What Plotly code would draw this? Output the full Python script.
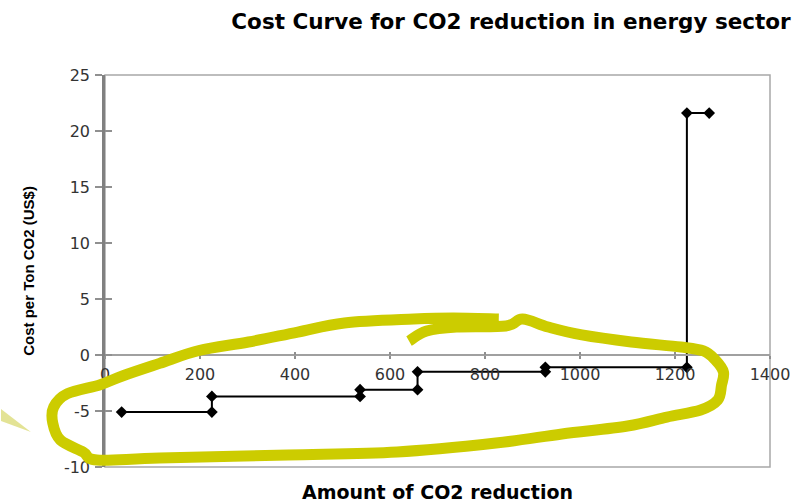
import plotly.graph_objects as go

# Abatement cost curve: cumulative CO2 reduction vs. cost per ton (step curve)
reduction = [35, 225, 225, 537, 537, 658, 658, 927, 927, 1225, 1225, 1272]
cost = [-5.1, -5.1, -3.7, -3.7, -3.1, -3.1, -1.5, -1.5, -1.1, -1.1, 21.6, 21.6]

x_ticks = [0, 200, 400, 600, 800, 1000, 1200, 1400]
y_ticks = [-10, -5, 0, 5, 10, 15, 20, 25]

X_RANGE = [0, 1400]
Y_RANGE = [-10, 25]

# Freehand highlight loop drawn around the negative-cost options (axis units)
loop_x = [640, 677, 740, 844, 879, 933, 1004, 1108, 1212, 1260, 1285, 1302,
          1298, 1290, 1254, 1183, 1100, 962, 823, 615, 385, 115, -17, -46,
          -94, -110, -108, -79, -10, 38, 115, 198, 302, 406, 504, 650, 733, 829]
loop_y = [1.25, 2.14, 2.5, 2.59, 3.21, 2.5, 1.79, 1.16, 0.71, 0.36, -0.45, -1.52,
          -2.68, -4.02, -4.91, -5.54, -6.34, -7.05, -7.86, -8.66, -8.93, -9.2, -9.38, -8.66,
          -7.59, -6.07, -4.64, -3.45, -2.65, -1.85, -0.75, 0.4, 1.16, 2.05, 2.86, 3.21, 3.3, 3.21]

# Small callout wedge at the left edge (axis units)
pointer_x = [-219, -156, -219]
pointer_y = [-4.82, -6.875, -5.89]


def to_paper(x, y):
    px = (x - X_RANGE[0]) / (X_RANGE[1] - X_RANGE[0])
    py = (y - Y_RANGE[0]) / (Y_RANGE[1] - Y_RANGE[0])
    return px, py


def smooth_path(xs, ys):
    pts = [to_paper(a, b) for a, b in zip(xs, ys)]
    d = "M %.5f,%.5f" % pts[0]
    n = len(pts)
    for i in range(n - 1):
        p0 = pts[i - 1] if i > 0 else pts[i]
        p1 = pts[i]
        p2 = pts[i + 1]
        p3 = pts[i + 2] if i + 2 < n else pts[i + 1]
        c1 = (p1[0] + (p2[0] - p0[0]) / 6, p1[1] + (p2[1] - p0[1]) / 6)
        c2 = (p2[0] - (p3[0] - p1[0]) / 6, p2[1] - (p3[1] - p1[1]) / 6)
        d += " C %.5f,%.5f %.5f,%.5f %.5f,%.5f" % (c1 + c2 + p2)
    return d


def poly_path(xs, ys):
    pts = [to_paper(a, b) for a, b in zip(xs, ys)]
    return "M " + " L ".join("%.5f,%.5f" % p for p in pts) + " Z"


fig = go.Figure()

fig.add_trace(go.Scatter(
    x=reduction, y=cost, mode="lines+markers",
    line=dict(color="black", width=2),
    marker=dict(symbol="diamond", size=9, color="black"),
    showlegend=False, hoverinfo="x+y",
))
# empty trace so the overlay axes (cross tick marks) get drawn
fig.add_trace(go.Scatter(x=[], y=[], xaxis="x2", yaxis="y2", showlegend=False))

tick_font = dict(family="DejaVu Sans", size=16, color="#333333")
zero_pos = (0 - Y_RANGE[0]) / (Y_RANGE[1] - Y_RANGE[0])

fig.update_layout(
    width=802, height=500,
    margin=dict(l=105, r=25, t=75, b=33),
    paper_bgcolor="white", plot_bgcolor="white",
    title=dict(
        text="<b>Cost Curve for CO2 reduction in energy sector</b>",
        font=dict(family="DejaVu Sans", size=21.5, color="black"),
        x=511 / 802, xref="container", xanchor="center",
        y=1 - 21 / 500, yref="container", yanchor="middle",
    ),
    xaxis=dict(
        range=X_RANGE, tickvals=x_ticks, ticktext=[str(v) for v in x_ticks],
        anchor="free", position=zero_pos,
        showline=True, linecolor="#a0a0a0", linewidth=1.5,
        ticks="outside", ticklen=3, tickcolor="#909090", tickwidth=1.5,
        tickfont=tick_font, ticklabelstandoff=2,
        showgrid=False, zeroline=False,
    ),
    xaxis2=dict(
        range=X_RANGE, tickvals=x_ticks, overlaying="x",
        anchor="free", position=zero_pos,
        ticks="inside", ticklen=3, tickcolor="#909090", tickwidth=1.5,
        showticklabels=False, showline=False, showgrid=False, zeroline=False,
    ),
    yaxis=dict(
        range=Y_RANGE, tickvals=y_ticks, ticktext=[str(v) for v in y_ticks],
        showline=True, linecolor="#808080", linewidth=2.5,
        ticks="outside", ticklen=7, tickcolor="#909090", tickwidth=1.5,
        tickfont=tick_font, ticklabelstandoff=2,
        showgrid=False, zeroline=False,
    ),
    yaxis2=dict(
        range=Y_RANGE, tickvals=y_ticks, overlaying="y", anchor="x", side="left",
        ticks="inside", ticklen=7, tickcolor="#909090", tickwidth=1.5,
        showticklabels=False, showline=False, showgrid=False, zeroline=False,
    ),
    annotations=[
        dict(text="<b>Cost per Ton CO2 (US$)</b>", textangle=-90,
             x=(27 - 105) / 672, y=0.5, xref="paper", yref="paper",
             xanchor="center", yanchor="middle", showarrow=False,
             font=dict(family="Liberation Sans", size=15, color="black")),
        dict(text="<b>Amount of CO2 reduction</b>",
             x=0.5, y=-0.03, xref="paper", yref="paper",
             xanchor="center", yanchor="top", showarrow=False,
             font=dict(family="DejaVu Sans", size=19, color="black")),
    ],
    shapes=[
        # plot-area frame
        dict(type="rect", xref="paper", yref="paper", x0=0, y0=0, x1=1, y1=1,
             line=dict(color="#a8a8a8", width=1.5), layer="below"),
        # callout wedge
        dict(type="path", xref="paper", yref="paper",
             path=poly_path(pointer_x, pointer_y),
             fillcolor="rgba(222,222,130,0.85)", line=dict(width=0)),
        # highlight loop
        dict(type="path", xref="paper", yref="paper",
             path=smooth_path(loop_x, loop_y),
             line=dict(color="#cccc00", width=11), fillcolor="rgba(0,0,0,0)"),
    ],
)

fig.write_html("out.html")
